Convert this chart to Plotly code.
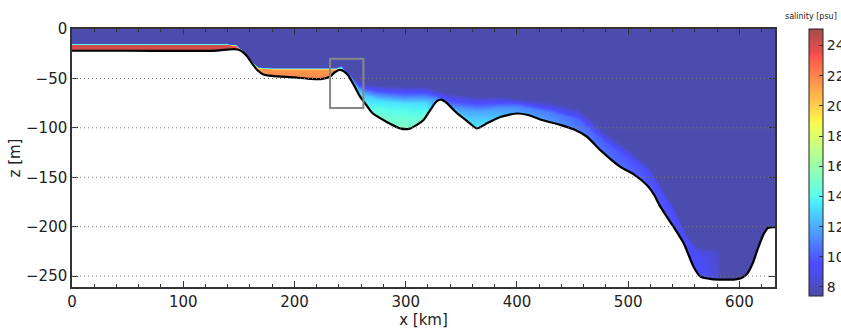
import numpy as np
import plotly.graph_objects as go

# ---- bathymetry (x km, bottom depth m)
bathy_x = [0, 50, 100, 130, 140, 147, 152, 157, 162, 167, 172, 180, 200, 215, 225, 232, 236, 240,
           244, 248, 254, 259, 264, 270, 283, 295, 303, 310, 316, 322, 328, 332, 337, 345, 355,
           364, 372, 385, 400, 410, 421, 439, 451, 463, 475, 493, 505, 517, 523, 529, 541, 550,
           559, 565, 575, 595, 602, 607, 612, 616, 622, 626, 632]
bathy_z = [-22, -22, -22.2, -21.8, -20.8, -20.5, -22, -27, -35, -42, -46, -47.5, -49, -50.5,
           -50.5, -48, -44, -41.5, -42.5, -46.5, -58, -68.5, -76, -85, -94, -100.5, -101, -97,
           -92, -82, -73, -71.5, -75, -84, -93, -100.5, -96, -89, -85.5, -87, -91.5, -97, -101.5,
           -109, -122.5, -139.5, -147, -158, -167, -180, -200.5, -217, -241, -250.5, -253,
           -253.5, -252, -247.5, -237, -224, -207, -201, -200.5]

# ---- salinity structure per station: top of halocline (z1), base of halocline (z2),
#      salinity at z2 (s1) and at the bottom (s2)
S0 = 7.6
st_x  = [0, 140, 148, 155, 162, 168, 180, 238, 242, 250, 256, 262, 275, 300, 318, 328, 340,
         365, 385, 400, 430, 455, 480, 505, 520, 540, 555, 565, 580, 583, 632]
st_z1 = [-15.5, -15.5, -16.5, -23, -33, -38.5, -39.5, -39.5, -37, -45, -52, -55, -57, -58, -58, -62,
         -65, -68, -68, -70, -74, -80, -105, -125, -140, -178, -212, -222, -222, -222, -222]
st_z2 = [-16.8, -16.8, -18, -25, -35, -40.5, -41.2, -41.2, -40, -49, -58, -66, -72, -76, -74, -70,
         -78, -84, -80, -78, -84, -92, -115, -135, -147, -184, -218, -228, -226, -226, -226]
st_s1 = [24.0, 24.0, 23, 20, 19, 21.3, 21.5, 21.5, 16, 12.5, 12, 12.5, 13.2, 13.5, 13, 11.2, 11.2, 12,
         11.5, 11, 10.8, 10.3, 10, 9.8, 9.6, 9.6, 9.4, 9.0, 8.3, S0, S0]
st_s2 = [24.3, 24.3, 23, 20, 20, 21.7, 21.9, 21.9, 17, 13.5, 13, 14, 15, 15.3, 14.8, 11.5, 12.5,
         13.5, 12.5, 12, 11.5, 11, 10.6, 10.2, 10, 9.8, 9.7, 9.5, 8.5, S0, S0]

x_ticks = [0, 100, 200, 300, 400, 500, 600]
z_ticks = [0, -50, -100, -150, -200, -250]
cb_ticks = [8, 10, 12, 14, 16, 18, 20, 22, 24]
box_x = [232, 262]
box_z = [-80, -30]
X_MAX, Z_MIN = 632, -261
CMIN, CMAX = 7.4, 25.1

# ---- build grid for the heatmap
xg = np.arange(0, X_MAX + 0.5, 1.0)
zg = np.arange(0, Z_MIN - 0.5, -1.0)
bot = np.interp(xg, bathy_x, bathy_z)
z1 = np.interp(xg, st_x, st_z1)
z2 = np.interp(xg, st_x, st_z2)
s1 = np.interp(xg, st_x, st_s1)
s2 = np.interp(xg, st_x, st_s2)
Z = zg[:, None]
f1 = np.clip((z1[None, :] - Z) / np.maximum(z1 - z2, 0.1)[None, :], 0, 1)
f2 = np.clip((z2[None, :] - Z) / np.maximum(z2 - bot, 0.5)[None, :], 0, 1)
S = np.where(Z > z2[None, :], S0 + (s1 - S0)[None, :] * f1, s1[None, :] + (s2 - s1)[None, :] * f2)
S = np.where(Z < bot[None, :] - 4, np.nan, S)

# ---- jet colormap blended with white (alpha 0.7)
pos = [0, 0.11, 0.125, 0.34, 0.35, 0.375, 0.64, 0.65, 0.66, 0.89, 0.91, 1]
def ch(p, pts):
    return np.interp(p, [a for a, _ in pts], [b for _, b in pts])
cs = []
for p in pos:
    r = ch(p, [(0, 0), (0.35, 0), (0.66, 1), (0.89, 1), (1, 0.5)])
    g = ch(p, [(0, 0), (0.125, 0), (0.375, 1), (0.64, 1), (0.91, 0), (1, 0)])
    b = ch(p, [(0, 0.5), (0.11, 1), (0.34, 1), (0.65, 0), (1, 0)])
    c = [int(round((0.7 * v + 0.3) * 255)) for v in (r, g, b)]
    cs.append([p, f"rgb({c[0]},{c[1]},{c[2]})"])

PL, PR, PT, PB = 72, 775, 29, 287
fig = go.Figure()
fig.add_trace(go.Heatmap(
    x=xg, y=zg, z=S, colorscale=cs, zmin=CMIN, zmax=CMAX, hoverinfo="skip",
    colorbar=dict(
        thickness=14, lenmode="pixels", len=296 - 29,
        x=(809 - PL) / (PR - PL), xanchor="left", xpad=0,
        y=1.0, yanchor="top", ypad=0, outlinecolor="#222", outlinewidth=1,
        tickvals=cb_ticks, ticks="inside", ticklen=4, tickcolor="#333",
        tickfont=dict(size=14, color="#222", family="DejaVu Sans")),
))
# white ground below bathymetry
fig.add_trace(go.Scatter(x=[0, X_MAX], y=[Z_MIN, Z_MIN], mode="lines", line=dict(width=0),
                         hoverinfo="skip", showlegend=False))
fig.add_trace(go.Scatter(x=bathy_x, y=bathy_z, mode="lines", fill="tonexty", fillcolor="white",
                         line=dict(color="black", width=2.2, shape="spline", smoothing=0.6),
                         hoverinfo="skip", showlegend=False))

for zt in z_ticks[1:]:
    fig.add_shape(type="line", x0=0, x1=X_MAX, y0=zt, y1=zt, layer="above",
                  line=dict(color="#777", width=1, dash="1px,3px"))
fig.add_shape(type="rect", x0=box_x[0], x1=box_x[1], y0=box_z[0], y1=box_z[1], layer="above",
              line=dict(color="#888", width=2))

fig.add_annotation(text="salinity [psu]", xref="paper", yref="paper",
                   x=(811 - PL) / (PR - PL), y=1 + (PT - 17) / (PB - PT),
                   xanchor="center", yanchor="middle", showarrow=False,
                   font=dict(size=8, color="#222", family="DejaVu Sans"))

axfont = dict(size=15, color="#222", family="DejaVu Sans")
fig.update_xaxes(range=[0, X_MAX], tickvals=x_ticks, showgrid=False, zeroline=False,
                 showline=True, mirror="ticks", linecolor="#333", linewidth=1.5,
                 ticks="inside", ticklen=6, tickcolor="#333", tickfont=axfont,
                 minor=dict(dtick=20, ticks="inside", ticklen=3, tickcolor="#333"),
                 title=dict(text="x [km]", font=axfont, standoff=2), layer="above traces")
fig.update_yaxes(range=[Z_MIN, 0], tickvals=z_ticks, showgrid=False, zeroline=False,
                 showline=True, mirror="ticks", linecolor="#333", linewidth=1.5,
                 ticks="inside", ticklen=6, tickcolor="#333", tickfont=axfont,
                 title=dict(text="z [m]", font=axfont, standoff=2), layer="above traces")
fig.update_layout(width=841, height=329,
                  margin=dict(l=PL, r=841 - PR, t=PT, b=329 - PB, autoexpand=False),
                  plot_bgcolor="white", paper_bgcolor="white", showlegend=False,
                  font=dict(family="DejaVu Sans"))
fig.write_html("out.html")
